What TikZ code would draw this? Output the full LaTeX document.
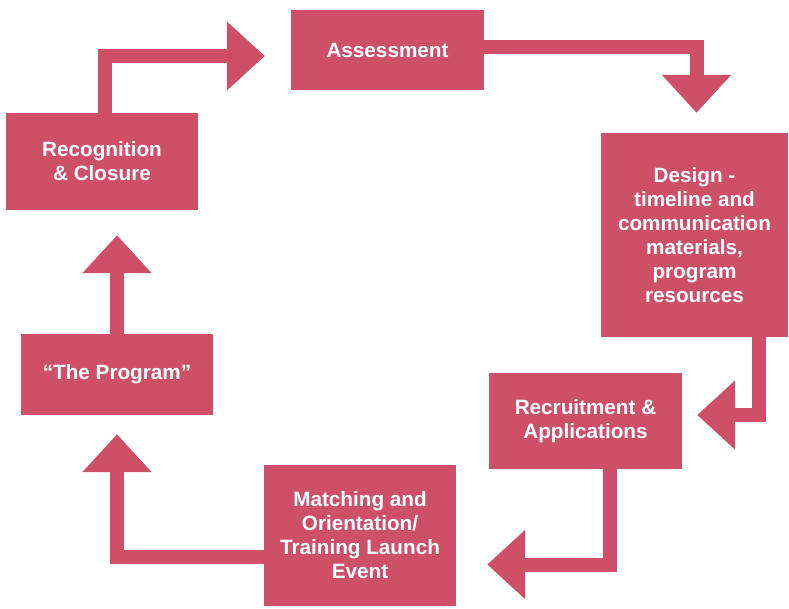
\documentclass[tikz,border=0pt]{standalone}
\usepackage{fontspec}
\setmainfont{Liberation Sans}
\usetikzlibrary{arrows.meta}
\definecolor{rose}{HTML}{CE5068}
\begin{document}
\begin{tikzpicture}[x=1pt,y=-1pt,
  stage/.style={fill=rose, text=white, inner sep=0pt, align=center,
    font=\bfseries\fontsize{20.7}{24}\selectfont},
  flow/.style={draw=rose, line width=14pt, line join=miter, line cap=butt,
    -{Triangle[length=38pt,width=67pt]}}]
\useasboundingbox (0,0) rectangle (789,608);

% process stages
\node[stage, minimum width=193pt, minimum height=80pt]  (assess)  at (387.5,50)   {Assessment};
\node[stage, minimum width=187pt, minimum height=204pt] (design)  at (694.5,235)  {Design -\\timeline and\\communication\\materials,\\program\\resources};
\node[stage, minimum width=193pt, minimum height=96pt]  (recruit) at (585.5,421)  {Recruitment \&\\Applications};
\node[stage, minimum width=192pt, minimum height=141pt] (match)   at (360,535.5)  {Matching and\\Orientation/\\Training Launch\\Event};
\node[stage, minimum width=192pt, minimum height=81pt]  (prog)    at (117,374.5)  {``The Program''};
\node[stage, minimum width=192pt, minimum height=97pt]  (rec)     at (102,161.5)  {Recognition\\\& Closure};

% cycle connectors (yshift is measured upwards)
\draw[flow] ([xshift=3pt]rec.north) |- ([xshift=-26pt,yshift=-6pt]assess.west);
\draw[flow] ([yshift=3pt]assess.east) -| ([xshift=2pt,yshift=20pt]design.north);
\draw[flow] ([xshift=64pt]design.south) |- ([xshift=15pt,yshift=6pt]recruit.east);
\draw[flow] ([xshift=24.5pt]recruit.south) |- ([xshift=31pt,yshift=-29pt]match.east);
\draw[flow] ([yshift=-21.5pt]match.west) -| ([yshift=-19pt]prog.south);
\draw[flow] (prog.north) -- ([xshift=15pt,yshift=-25pt]rec.south);
\end{tikzpicture}
\end{document}
